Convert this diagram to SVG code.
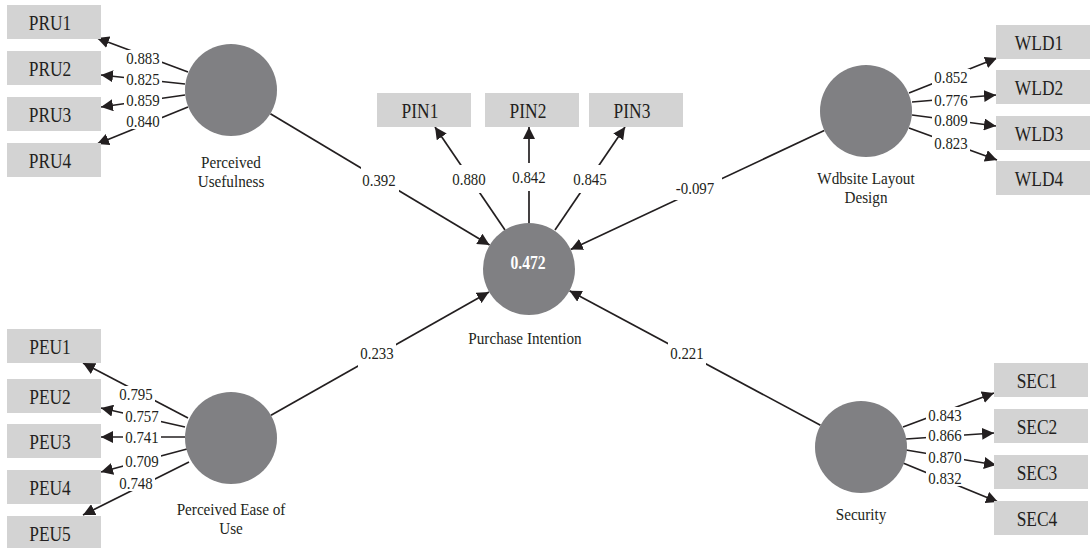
<svg xmlns="http://www.w3.org/2000/svg" width="1090" height="548" viewBox="0 0 1090 548">
  <defs>
    <marker id="arrow" viewBox="0 0 12 12" refX="12" refY="6" markerWidth="12" markerHeight="12" markerUnits="userSpaceOnUse" orient="auto">
      <path d="M0,0 L12,6 L0,12 z" fill="#231f20"/>
    </marker>
    <style>
      .box { fill: #d3d3d3; }
      .latent { fill: #808083; }
      text { font-family: "Liberation Serif", "Times New Roman", serif; fill: #231f20; text-anchor: middle; }
      .btxt { font-size: 21px; }
      .ntxt { font-size: 16.5px; }
      .etxt { font-size: 17.5px; }
      .r2 { font-size: 18px; font-weight: bold; fill: #ffffff; }
      .edge { stroke: #231f20; stroke-width: 1.7; fill: none; marker-end: url(#arrow); }
      .gap { fill: #ffffff; }
    </style>
  </defs>

  <!-- connectors -->
  <g id="connectors">
    <!-- Perceived Usefulness indicators -->
    <line class="edge" x1="188" y1="72" x2="97" y2="38"/>
    <line class="edge" x1="185" y1="84" x2="101" y2="75"/>
    <line class="edge" x1="185" y1="95" x2="101" y2="107"/>
    <line class="edge" x1="188" y1="107" x2="97" y2="144"/>
    <!-- Website Layout Design indicators -->
    <line class="edge" x1="909" y1="93" x2="997" y2="58"/>
    <line class="edge" x1="912" y1="102" x2="996" y2="95"/>
    <line class="edge" x1="912" y1="115" x2="996" y2="126"/>
    <line class="edge" x1="909" y1="128" x2="997" y2="160"/>
    <!-- Perceived Ease of Use indicators -->
    <line class="edge" x1="188" y1="418" x2="83" y2="363"/>
    <line class="edge" x1="185" y1="427" x2="101" y2="408"/>
    <line class="edge" x1="185" y1="437" x2="101" y2="437"/>
    <line class="edge" x1="187" y1="449" x2="101" y2="472"/>
    <line class="edge" x1="189" y1="462" x2="83" y2="515"/>
    <!-- Security indicators -->
    <line class="edge" x1="903" y1="427" x2="994" y2="393"/>
    <line class="edge" x1="906" y1="439" x2="994" y2="433"/>
    <line class="edge" x1="906" y1="450" x2="996" y2="465"/>
    <line class="edge" x1="903" y1="463" x2="998" y2="502"/>
    <!-- Purchase Intention indicators -->
    <line class="edge" x1="505" y1="230" x2="435" y2="127"/>
    <line class="edge" x1="529" y1="223" x2="529" y2="127"/>
    <line class="edge" x1="555" y1="230" x2="625" y2="127"/>
    <!-- structural paths -->
    <line class="edge" x1="270.4" y1="113.7" x2="489.6" y2="245"/>
    <line class="edge" x1="824.3" y1="130.6" x2="570.7" y2="249.5"/>
    <line class="edge" x1="271" y1="415.3" x2="489" y2="292"/>
    <line class="edge" x1="820.5" y1="425.2" x2="569.5" y2="290.7"/>

    <!-- label backgrounds cut the lines -->
    <rect class="gap" x="124" y="50" width="38" height="16"/>
    <rect class="gap" x="124" y="71" width="38" height="16"/>
    <rect class="gap" x="124" y="92" width="38" height="16"/>
    <rect class="gap" x="124" y="113" width="38" height="16"/>

    <rect class="gap" x="932" y="69" width="38" height="16"/>
    <rect class="gap" x="932" y="92" width="38" height="16"/>
    <rect class="gap" x="932" y="112" width="38" height="16"/>
    <rect class="gap" x="932" y="135" width="38" height="16"/>

    <rect class="gap" x="117" y="386" width="38" height="16"/>
    <rect class="gap" x="123" y="408" width="38" height="16"/>
    <rect class="gap" x="123" y="429" width="38" height="16"/>
    <rect class="gap" x="123" y="453" width="38" height="16"/>
    <rect class="gap" x="117" y="475" width="38" height="16"/>

    <rect class="gap" x="926" y="407" width="38" height="16"/>
    <rect class="gap" x="926" y="427" width="38" height="16"/>
    <rect class="gap" x="926" y="449" width="38" height="16"/>
    <rect class="gap" x="926" y="470" width="38" height="16"/>

    <rect class="gap" x="450" y="165" width="38" height="28"/>
    <rect class="gap" x="510" y="163" width="38" height="28"/>
    <rect class="gap" x="571" y="165" width="38" height="28"/>

    <rect class="gap" x="361" y="166" width="38" height="26"/>
    <rect class="gap" x="672" y="176" width="50" height="24"/>
    <rect class="gap" x="358" y="341" width="38" height="26"/>
    <rect class="gap" x="668" y="341" width="38" height="26"/>

    <!-- path coefficients and loadings (condensed serif) -->
    <text class="etxt" transform="translate(143,64) scale(0.85,1)">0.883</text>
    <text class="etxt" transform="translate(143,85) scale(0.85,1)">0.825</text>
    <text class="etxt" transform="translate(143,106) scale(0.85,1)">0.859</text>
    <text class="etxt" transform="translate(143,127) scale(0.85,1)">0.840</text>

    <text class="etxt" transform="translate(951,83) scale(0.85,1)">0.852</text>
    <text class="etxt" transform="translate(951,106) scale(0.85,1)">0.776</text>
    <text class="etxt" transform="translate(951,126) scale(0.85,1)">0.809</text>
    <text class="etxt" transform="translate(951,149) scale(0.85,1)">0.823</text>

    <text class="etxt" transform="translate(136,400) scale(0.85,1)">0.795</text>
    <text class="etxt" transform="translate(142,422) scale(0.85,1)">0.757</text>
    <text class="etxt" transform="translate(142,443) scale(0.85,1)">0.741</text>
    <text class="etxt" transform="translate(142,467) scale(0.85,1)">0.709</text>
    <text class="etxt" transform="translate(136,489) scale(0.85,1)">0.748</text>

    <text class="etxt" transform="translate(945,421) scale(0.85,1)">0.843</text>
    <text class="etxt" transform="translate(945,441) scale(0.85,1)">0.866</text>
    <text class="etxt" transform="translate(945,463) scale(0.85,1)">0.870</text>
    <text class="etxt" transform="translate(945,484) scale(0.85,1)">0.832</text>

    <text class="etxt" transform="translate(469,185) scale(0.85,1)">0.880</text>
    <text class="etxt" transform="translate(529,183) scale(0.85,1)">0.842</text>
    <text class="etxt" transform="translate(590,185) scale(0.85,1)">0.845</text>

    <text class="etxt" transform="translate(379,186) scale(0.85,1)">0.392</text>
    <text class="etxt" transform="translate(695,194) scale(0.85,1)">-0.097</text>
    <text class="etxt" transform="translate(377,359) scale(0.85,1)">0.233</text>
    <text class="etxt" transform="translate(687,359) scale(0.85,1)">0.221</text>
  </g>

  <!-- Perceived Usefulness -->
  <g id="pru">
    <circle class="latent" cx="231" cy="90" r="46"/>
    <text class="ntxt" transform="translate(231,168) scale(0.92,1)">Perceived</text>
    <text class="ntxt" transform="translate(231,187) scale(0.92,1)">Usefulness</text>
  </g>
  <g id="pru1"><rect class="box" x="7" y="5" width="94" height="34"/><text class="btxt" transform="translate(50,29.5) scale(0.83,1)">PRU1</text></g>
  <g id="pru2"><rect class="box" x="7" y="51" width="94" height="34"/><text class="btxt" transform="translate(50,75.5) scale(0.83,1)">PRU2</text></g>
  <g id="pru3"><rect class="box" x="7" y="97" width="94" height="34"/><text class="btxt" transform="translate(50,121.5) scale(0.83,1)">PRU3</text></g>
  <g id="pru4"><rect class="box" x="7" y="143" width="94" height="34"/><text class="btxt" transform="translate(50,167.5) scale(0.83,1)">PRU4</text></g>

  <!-- Purchase Intention -->
  <g id="pin">
    <circle class="latent" cx="529" cy="269" r="46"/>
    <text class="r2" transform="translate(528,269) scale(0.87,1)">0.472</text>
    <text class="ntxt" transform="translate(525,344) scale(0.92,1)">Purchase Intention</text>
  </g>
  <g id="pin1"><rect class="box" x="377" y="93" width="94" height="34"/><text class="btxt" transform="translate(420,117.5) scale(0.83,1)">PIN1</text></g>
  <g id="pin2"><rect class="box" x="485" y="93" width="94" height="34"/><text class="btxt" transform="translate(528,117.5) scale(0.83,1)">PIN2</text></g>
  <g id="pin3"><rect class="box" x="589" y="93" width="94" height="34"/><text class="btxt" transform="translate(632,117.5) scale(0.83,1)">PIN3</text></g>

  <!-- Website Layout Design -->
  <g id="wld">
    <circle class="latent" cx="866" cy="111" r="46"/>
    <text class="ntxt" transform="translate(866,184) scale(0.92,1)">Wdbsite Layout</text>
    <text class="ntxt" transform="translate(866,203) scale(0.92,1)">Design</text>
  </g>
  <g id="wld1"><rect class="box" x="996" y="25" width="94" height="34"/><text class="btxt" transform="translate(1039,49.5) scale(0.83,1)">WLD1</text></g>
  <g id="wld2"><rect class="box" x="996" y="70" width="94" height="34"/><text class="btxt" transform="translate(1039,94.5) scale(0.83,1)">WLD2</text></g>
  <g id="wld3"><rect class="box" x="996" y="116" width="94" height="34"/><text class="btxt" transform="translate(1039,140.5) scale(0.83,1)">WLD3</text></g>
  <g id="wld4"><rect class="box" x="996" y="161" width="94" height="34"/><text class="btxt" transform="translate(1039,185.5) scale(0.83,1)">WLD4</text></g>

  <!-- Perceived Ease of Use -->
  <g id="peu">
    <circle class="latent" cx="231" cy="438" r="46"/>
    <text class="ntxt" transform="translate(231,515) scale(0.92,1)">Perceived Ease of</text>
    <text class="ntxt" transform="translate(231,534) scale(0.92,1)">Use</text>
  </g>
  <g id="peu1"><rect class="box" x="7" y="329" width="94" height="34"/><text class="btxt" transform="translate(50,353.5) scale(0.83,1)">PEU1</text></g>
  <g id="peu2"><rect class="box" x="7" y="379" width="94" height="34"/><text class="btxt" transform="translate(50,403.5) scale(0.83,1)">PEU2</text></g>
  <g id="peu3"><rect class="box" x="7" y="424" width="94" height="34"/><text class="btxt" transform="translate(50,448.5) scale(0.83,1)">PEU3</text></g>
  <g id="peu4"><rect class="box" x="7" y="470" width="94" height="34"/><text class="btxt" transform="translate(50,494.5) scale(0.83,1)">PEU4</text></g>
  <g id="peu5"><rect class="box" x="7" y="516" width="94" height="34"/><text class="btxt" transform="translate(50,540.5) scale(0.83,1)">PEU5</text></g>

  <!-- Security -->
  <g id="sec">
    <circle class="latent" cx="861" cy="447" r="46"/>
    <text class="ntxt" transform="translate(861,520) scale(0.92,1)">Security</text>
  </g>
  <g id="sec1"><rect class="box" x="994" y="363" width="94" height="34"/><text class="btxt" transform="translate(1037,387.5) scale(0.83,1)">SEC1</text></g>
  <g id="sec2"><rect class="box" x="994" y="409" width="94" height="34"/><text class="btxt" transform="translate(1037,433.5) scale(0.83,1)">SEC2</text></g>
  <g id="sec3"><rect class="box" x="994" y="455" width="94" height="34"/><text class="btxt" transform="translate(1037,479.5) scale(0.83,1)">SEC3</text></g>
  <g id="sec4"><rect class="box" x="994" y="501" width="94" height="34"/><text class="btxt" transform="translate(1037,525.5) scale(0.83,1)">SEC4</text></g>
</svg>
